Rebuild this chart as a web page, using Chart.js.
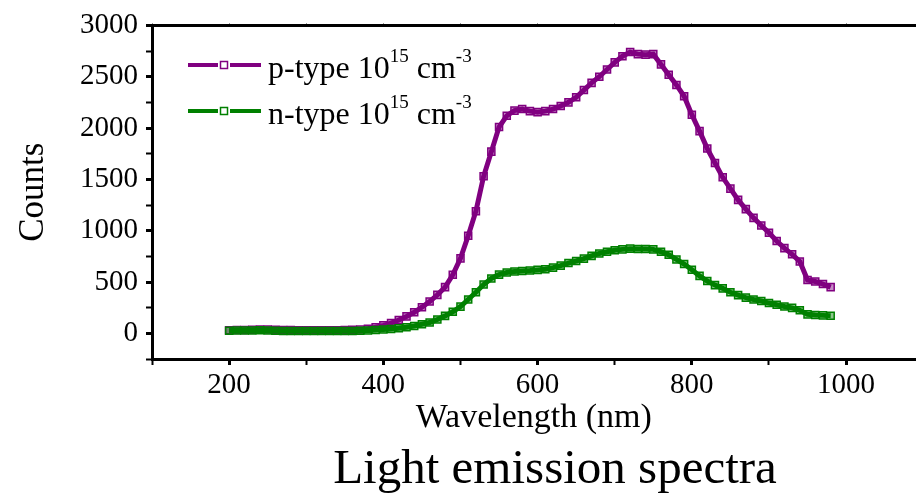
<!DOCTYPE html>
<html>
<head>
<meta charset="utf-8">
<script src="https://cdn.jsdelivr.net/npm/chart.js@4.4.1/dist/chart.umd.min.js"></script>
<style>
  html, body { margin: 0; padding: 0; background: #fff; overflow: hidden; }
  #wrap { width: 922px; height: 496px; }
</style>
</head>
<body>
<div id="wrap"><canvas id="spectra" width="922" height="496"></canvas></div>
<script>
// wavelength (nm) of each sample
const wavelengths = [
  200, 210, 220, 230, 240, 250, 260, 270, 280, 290,
  300, 310, 320, 330, 340, 350, 360, 370, 380, 390,
  400, 410, 420, 430, 440, 450, 460, 470, 480, 490,
  500, 510, 520, 530, 540, 550, 560, 570, 580, 590,
  600, 610, 620, 630, 640, 650, 660, 670, 680, 690,
  700, 710, 720, 730, 740, 750, 760, 770, 780, 790,
  800, 810, 820, 830, 840, 850, 860, 870, 880, 890,
  900, 910, 920, 930, 940, 950, 960, 970, 980
];

const pTypeCounts = [
  30, 32, 33, 35, 38, 38, 35, 33, 32, 30,
  30, 30, 30, 30, 30, 32, 34, 38, 45, 60,
  78, 100, 130, 165, 205, 255, 310, 375, 450, 570,
  730, 950, 1190, 1530, 1770, 2010, 2120, 2170, 2185, 2165,
  2155, 2165, 2185, 2215, 2250, 2300, 2370, 2440, 2500, 2570,
  2640, 2700, 2740, 2720, 2715, 2720, 2620, 2520, 2420, 2310,
  2130, 1970, 1800, 1660, 1520, 1410, 1300, 1210, 1125, 1050,
  980, 900, 830, 770, 700, 520, 505, 480, 450
];

const nTypeCounts = [
  25, 27, 28, 28, 30, 28, 25, 22, 22, 22,
  22, 22, 22, 22, 22, 22, 23, 25, 28, 32,
  38, 42, 50, 60, 72, 88, 105, 135, 170, 210,
  260, 330, 400, 475, 535, 572, 593, 603, 608, 612,
  618, 625, 640, 660, 685, 705, 728, 755, 778, 795,
  810, 818, 825, 822, 822, 818, 795, 765, 720, 675,
  620, 560, 510, 470, 438, 400, 372, 348, 330, 315,
  295, 278, 262, 248, 225, 185, 178, 175, 172
];

const seriesNames = ['p-type', 'n-type'];
const seriesColors = ['#800080', '#008000'];
const seriesFills = ['rgba(128,0,128,0.45)', 'rgba(0,128,0,0.45)'];

// tick marks (every position) and the ones that carry a label
const xTickValues = [100, 200, 300, 400, 500, 600, 700, 800, 900, 1000];
const xTickLabels = [200, 400, 600, 800, 1000];
const yTickValues = [-250, 0, 250, 500, 750, 1000, 1250, 1500, 1750, 2000, 2250, 2500, 2750, 3000];
const yTickLabels = [0, 500, 1000, 1500, 2000, 2500, 3000];

const serif = "'Liberation Serif', 'Times New Roman', serif";

function toPoints(values) {
  return wavelengths.map((w, i) => ({ x: w, y: values[i] }));
}

function setTicks(values) {
  return (scale) => { scale.ticks = values.map((v) => ({ value: v })); };
}

// legend rows inside the plot and the caption under the axis title
const spectraDecor = {
  id: 'spectraDecor',
  afterDraw(chart) {
    const ctx = chart.ctx;
    ctx.save();
    seriesNames.forEach((name, i) => {
      const y = 65 + i * 46;
      const color = seriesColors[i];
      ctx.strokeStyle = color;
      ctx.lineWidth = 4;
      ctx.beginPath();
      ctx.moveTo(188, y); ctx.lineTo(218, y);
      ctx.moveTo(230, y); ctx.lineTo(261, y);
      ctx.stroke();
      ctx.fillStyle = '#fff';
      ctx.fillRect(220.5, y - 3.5, 7, 7);
      ctx.lineWidth = 1.5;
      ctx.strokeRect(220.5, y - 3.5, 7, 7);

      const base = 78 + i * 46;
      const parts = [
        [name + ' 10', false],
        ['15', true],
        [' cm', false],
        ['-3', true]
      ];
      let x = 268;
      ctx.fillStyle = '#000';
      ctx.textAlign = 'left';
      ctx.textBaseline = 'alphabetic';
      parts.forEach(([txt, sup]) => {
        ctx.font = (sup ? '19px ' : '32px ') + serif;
        ctx.fillText(txt, x, sup ? base - 16 : base);
        x += ctx.measureText(txt).width;
      });
    });

    ctx.font = '49px ' + serif;
    ctx.textAlign = 'center';
    ctx.fillStyle = '#000';
    ctx.fillText('Light emission spectra', 555, 483);
    ctx.restore();
  }
};

const tickFont = { family: serif, size: 29 };

function spectrum(i, values, order) {
  return {
    label: seriesNames[i],
    data: toPoints(values),
    borderColor: seriesColors[i],
    borderWidth: 5,
    pointStyle: 'rect',
    pointRadius: 5,
    pointBorderWidth: 1.5,
    pointBorderColor: seriesColors[i],
    pointBackgroundColor: seriesFills[i],
    tension: 0,
    order: order,
  };
}

new Chart(document.getElementById('spectra').getContext('2d'), {
  type: 'line',
  data: {
    // n-type sits on top where the two curves overlap
    datasets: [spectrum(1, nTypeCounts, 0), spectrum(0, pTypeCounts, 1)],
  },
  options: {
    responsive: false,
    animation: false,
    devicePixelRatio: 1,
    layout: { padding: { left: 0, right: 0, top: 0, bottom: 58 } },
    scales: {
      x: {
        type: 'linear',
        position: 'bottom',
        min: 100,
        max: 1090,
        afterBuildTicks: setTicks(xTickValues),
        afterFit(scale) { scale.height = 79; },
        border: { display: true, color: '#000', width: 3 },
        grid: {
          drawOnChartArea: false,
          drawTicks: true,
          tickLength: 6,
          tickColor: '#000',
          tickWidth: (c) => (c.tick && xTickLabels.includes(c.tick.value) ? 3 : 2),
        },
        ticks: {
          autoSkip: false,
          maxRotation: 0,
          padding: 3,
          color: '#000',
          font: tickFont,
          callback: (v) => (xTickLabels.includes(v) ? String(v) : ''),
        },
        title: {
          display: true,
          text: 'Wavelength (nm)',
          color: '#000',
          font: { family: serif, size: 34 },
          padding: { top: 0, bottom: 0 },
        },
      },
      xTop: {
        type: 'linear',
        position: 'top',
        min: 100,
        max: 1090,
        afterBuildTicks: setTicks(xTickValues),
        afterFit(scale) { scale.height = 20; },
        border: { display: true, color: '#000', width: 3 },
        grid: {
          drawOnChartArea: false,
          tickLength: 2,
          tickWidth: 1,
          tickColor: '#555',
        },
        ticks: { display: false },
      },
      y: {
        type: 'linear',
        min: -250,
        max: 3000,
        afterBuildTicks: setTicks(yTickValues),
        afterFit(scale) { scale.width = 152; },
        border: { display: true, color: '#000', width: 3 },
        grid: {
          drawOnChartArea: false,
          drawTicks: true,
          tickLength: 6,
          tickColor: '#000',
          tickWidth: (c) => (c.tick && yTickLabels.includes(c.tick.value) ? 3 : 2),
        },
        ticks: {
          autoSkip: false,
          padding: 8,
          color: '#000',
          font: tickFont,
          callback: (v) => (yTickLabels.includes(v) ? String(v) : ''),
        },
        title: {
          display: true,
          text: 'Counts',
          color: '#000',
          font: { family: serif, size: 35 },
          padding: { top: 13, bottom: 0 },
        },
      },
    },
    plugins: {
      legend: { display: false },
      tooltip: { enabled: false },
    },
  },
  plugins: [spectraDecor],
});
</script>
</body>
</html>
